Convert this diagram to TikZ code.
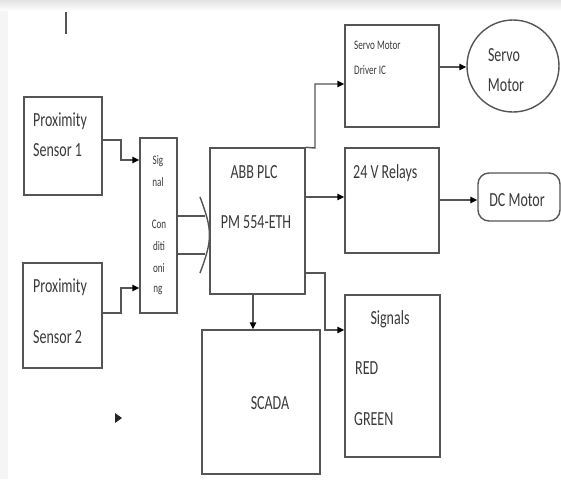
\documentclass[tikz,border=0pt]{standalone}
\usepackage{fontspec}
\setmainfont{Carlito}[FakeStretch=0.7]
\usetikzlibrary{arrows.meta}
\definecolor{linec}{HTML}{555555}
\definecolor{txtc}{HTML}{3A3A3A}
\begin{document}
\begin{tikzpicture}[x=1pt,y=-1pt,
  box/.style={draw=linec, line width=1.4pt, inner sep=0pt},
  conn/.style={draw=linec, line width=1.4pt},
  arr/.style={conn, -{Triangle[length=7pt,width=6.5pt,color=black]}},
  lbl/.style={inner sep=0pt, text=txtc, font=\fontsize{20}{24}\selectfont},
  lbll/.style={lbl, anchor=west},
  sml/.style={inner sep=0pt, text=txtc, font=\fontsize{13}{15}\selectfont},
  smll/.style={sml, anchor=west}]
\useasboundingbox (0,0) rectangle (561,479);
\shade[top color=gray!22, bottom color=white] (0,0) rectangle (561,11);
\fill[gray!8] (0,11) rectangle (8,479);

% boxes
\node[box, minimum width=78pt, minimum height=98pt] (s1) at (63,146) {};
\node[box, minimum width=79pt, minimum height=105pt] (s2) at (62.5,315.5) {};
\node[box, minimum width=37pt, minimum height=175pt] (sc) at (158.5,225.5) {};
\node[box, minimum width=95pt, minimum height=146pt] (plc) at (257.5,221) {};
\node[box, minimum width=94pt, minimum height=102pt] (drv) at (392,76) {};
\node[box, minimum width=94pt, minimum height=105pt] (rel) at (392,200.5) {};
\node[box, minimum width=95pt, minimum height=162pt] (sig) at (392.5,376) {};
\node[box, minimum width=118pt, minimum height=144pt] (scada) at (261,402) {};
\node[box, circle, minimum size=92pt] (servo) at (513,66) {};
\node[box, rounded corners=11pt, minimum width=82pt, minimum height=48pt] (dc) at (519,197) {};

% texts
\node[lbll] (t1a) at (33,121) {Proximity};
\node[lbll] (t1b) at (33,150) {Sensor 1};
\node[lbll] (t2a) at (33,287) {Proximity};
\node[lbll] (t2b) at (33,337) {Sensor 2};
\node[sml] (c1) at (158,161) {Sig};
\node[sml] (c2) at (158,182) {nal};
\node[sml] (c3) at (159,224) {Con};
\node[sml] (c4) at (159,246) {diti};
\node[sml] (c5) at (159,268) {oni};
\node[sml] (c6) at (158,290) {ng};
\node[lbl] (p1) at (254,172) {ABB PLC};
\node[lbl] (p2) at (256,222) {PM 554-ETH};
\node[smll] (d1) at (354,45) {Servo Motor};
\node[smll] (d2) at (354,70) {Driver IC};
\node[lbl] (sv1) at (504,55) {Servo};
\node[lbl] (sv2) at (506,85) {Motor};
\node[lbll] (r1) at (353,173) {24 V Relays};
\node[lbl] (dct) at (517,200) {DC Motor};
\node[lbl] (g1) at (390,319) {Signals};
\node[lbll] (g2) at (355,368) {RED};
\node[lbll] (g3) at (354,419) {GREEN};
\node[lbl] (sct) at (270,403) {SCADA};

% connectors
\draw[arr] (s1.east|-0,140) -- (121,140) -- (121,160) -- (sc.west|-0,160);
\draw[arr] (s2.east|-0,313) -- (121,313) -- (121,288) -- (sc.west|-0,288);
\draw[conn] (sc.east|-0,216) -- (204.5,216);
\draw[conn] (sc.east|-0,254) -- (204.5,254);
\draw[conn] (200,197) .. controls (205,210) and (210,225) .. (plc.west|-0,235)
  .. controls (210,245) and (205,260) .. (200,273);
\draw[arr] (plc.north east) -- (315,148) -- (315,84) -- (drv.west|-0,84);
\draw[arr] (plc.east|-0,197) -- (rel.west|-0,197);
\draw[arr] (plc.east|-0,273) -- (325,273) -- (325,330) -- (sig.west|-0,330);
\draw[arr] (plc.south-|253,0) -- (scada.north-|253,0);
\draw[arr] (drv.east|-0,67) -- (servo.west|-0,67);
\draw[arr] (rel.east|-0,200) -- (dc.west|-0,200);

% stray marks
\coordinate (m1) at (66,12);
\coordinate (m2) at (66,34);
\draw[conn] (m1) -- (m2);
\fill[black!85] (115,413) -- (122,418) -- (115,423) -- cycle;
\end{tikzpicture}
\end{document}
